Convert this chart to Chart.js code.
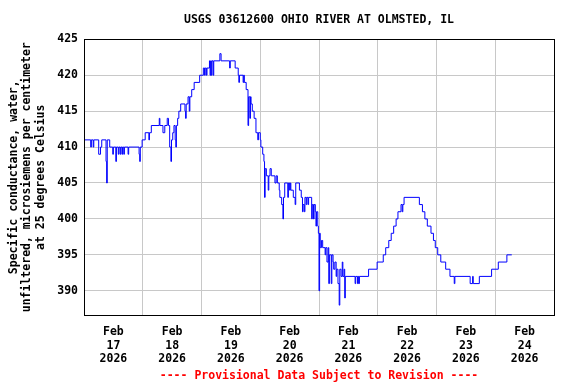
<!DOCTYPE html>
<html>
<head>
<meta charset="utf-8">
<script src="https://cdn.jsdelivr.net/npm/chart.js@4.4.1/dist/chart.umd.min.js"></script>
<style>
    html, body { margin: 0; padding: 0; background: #ffffff; }
</style>
</head>
<body>
<canvas id="myChart" width="576" height="384"></canvas>
<script>
const stationTitle = 'USGS 03612600 OHIO RIVER AT OLMSTED, IL';
const yAxisTitle = ['Specific conductance, water,', 'unfiltered, microsiemens per centimeter', 'at 25 degrees Celsius'];
const footerText = '---- Provisional Data Subject to Revision ----';

// x axis runs in hours from Feb 17 2026 00:00 to Feb 25 2026 00:00
const tickMonth = 'Feb';
const tickDays = ['17', '18', '19', '20', '21', '22', '23', '24'];
const tickYear = '2026';
const yTicks = [390, 395, 400, 405, 410, 415, 420, 425];

// change points of the 15-minute record (value holds until the next one)
const hours = [
    0, 2.75, 3, 3.75, 4, 6, 6.75, 7.25, 9, 9.25, 9.5, 10.5, 11.75, 12, 13, 13.25,
    14, 14.25, 14.75, 15, 15.5, 15.75, 16.25, 16.5, 18, 18.25, 22.5, 22.75, 23, 23.75,
    25, 26.5, 26.75, 27.5, 30.75, 31, 32.25, 33, 34, 34.5, 35, 35.5, 35.75, 36.25, 36.75,
    37.25, 37.5, 37.75, 38.25, 38.75, 39.5, 41.25, 41.5, 41.75, 42.5, 43, 43.25, 44, 45,
    47.25, 48.75, 49.25, 49.5, 50, 50.25, 51.25, 51.5, 51.75, 52, 52.25, 52.75, 53,
    55.5, 56, 59.5, 59.75, 61.75, 63, 63.25, 63.5, 65, 65.25, 65.5, 66.25, 67, 67.25,
    67.75, 68, 68.25, 68.75, 69.5, 70.25, 71, 71.25, 72, 72.25, 73, 73.5, 73.75, 74,
    74.5, 75.25, 75.5, 76, 76.5, 78, 78.5, 79, 79.75, 80, 80.75, 81.25, 81.5, 82,
    83.25, 83.5, 84, 84.25, 84.5, 85.5, 86.25, 86.5, 88, 88.75, 89.25, 89.5, 90, 90.25,
    90.75, 91, 91.5, 91.75, 93, 93.25, 93.75, 94, 94.5, 94.75, 95, 95.5, 95.75, 96,
    96.25, 96.5, 97, 97.5, 98.5, 98.75, 99.25, 99.75, 100, 100.25, 101, 101.25, 101.75,
    102, 102.5, 103, 103.25, 103.75, 104.25, 104.5, 105, 105.5, 105.75, 106.25, 106.5,
    106.75, 110.75, 111, 111.75, 112, 112.25, 112.5, 116.25, 119.75, 122.25, 123.25,
    124.5, 125.5, 126.5, 127.5, 128.25, 129.5, 130, 130.25, 130.75, 137, 138.25, 139.25,
    140.25, 141.75, 142.75, 143.5, 144.5, 145.75, 147.75, 149.5, 151.25, 151.5, 157.75,
    158.75, 159, 161.5, 166.5, 169.25, 172.75, 174.75
];
const conductance = [
    411, 410, 411, 410, 411, 409, 410, 411, 408, 405, 411, 410, 409, 410, 408, 410,
    409, 410, 409, 410, 409, 410, 409, 410, 409, 410, 409, 408, 410, 411,
    412, 411, 412, 413, 414, 413, 412, 413, 414, 413, 410, 408, 411, 412, 413,
    411, 410, 413, 414, 415, 416, 415, 414, 416, 417, 415, 417, 418, 419,
    420, 421, 420, 421, 420, 421, 422, 420, 422, 420, 422, 420, 422,
    423, 422, 421, 422, 421, 420, 419, 420, 419, 420, 419, 418, 413, 417,
    414, 417, 416, 415, 414, 412, 411, 412, 411, 410, 409, 408, 403, 407,
    406, 404, 406, 407, 406, 405, 406, 405, 404, 403, 402, 400, 403, 405,
    403, 405, 404, 405, 404, 403, 402, 405, 404, 403, 401, 402, 401, 403,
    402, 403, 402, 403, 400, 402, 400, 402, 401, 399, 401, 399, 398, 390,
    398, 396, 397, 396, 395, 396, 394, 396, 391, 395, 391, 395, 394,
    393, 394, 392, 393, 391, 388, 393, 392, 394, 392, 393, 389,
    392, 391, 392, 391, 392, 391, 392, 393, 394, 395, 396,
    397, 398, 399, 400, 401, 402, 401, 402, 403, 402, 401, 400,
    399, 398, 397, 396, 395, 394, 393, 392, 391, 392, 391,
    392, 391, 392, 393, 394, 395, 395
];

const monoFont = "'DejaVu Sans Mono', monospace";

const plotFrame = {
    id: 'plotFrame',
    afterDraw(chart) {
        const {ctx, chartArea: a} = chart;
        ctx.save();
        ctx.strokeStyle = '#000000';
        ctx.lineWidth = 1;
        ctx.strokeRect(Math.round(a.left) + 0.5, Math.round(a.top) + 0.5,
            Math.round(a.right - a.left), Math.round(a.bottom - a.top));
        ctx.restore();
    }
};

document.addEventListener('DOMContentLoaded', function () {
    const ctx = document.getElementById('myChart');

    new Chart(ctx, {
        type: 'line',
        data: {
            datasets: [{
                data: hours.map((h, i) => ({x: h, y: conductance[i]})),
                borderColor: '#0000ff',
                borderWidth: 1,
                pointRadius: 0,
                stepped: true,
                fill: false
            }]
        },
        options: {
            responsive: false,
            animation: false,
            layout: {
                padding: {left: 0, right: 22, top: 0, bottom: 0}
            },
            plugins: {
                legend: {display: false},
                tooltip: {enabled: false},
                title: {
                    display: true,
                    fullSize: false,
                    text: stationTitle,
                    color: '#000000',
                    font: {family: monoFont, size: 11.5, weight: 'bold', lineHeight: 1.2},
                    padding: {top: 13, bottom: 12.5}
                },
                subtitle: {
                    display: true,
                    fullSize: false,
                    position: 'bottom',
                    text: footerText,
                    color: '#ff0000',
                    font: {family: monoFont, size: 11.5, weight: 'bold', lineHeight: 1.2},
                    padding: {top: 5.4, bottom: 1.1}
                }
            },
            scales: {
                x: {
                    type: 'linear',
                    min: 0,
                    max: 192,
                    border: {display: false},
                    grid: {
                        drawTicks: false,
                        color: (c) => (c.tick && c.tick.value % 24 === 0) ? '#c8c8c8' : 'rgba(0,0,0,0)'
                    },
                    afterBuildTicks: (scale) => {
                        const t = [];
                        for (let h = 0; h <= 192; h += 12) t.push({value: h});
                        scale.ticks = t;
                    },
                    afterFit: (scale) => {
                        scale.height = 48.5;
                    },
                    ticks: {
                        autoSkip: false,
                        maxRotation: 0,
                        minRotation: 0,
                        padding: 10.5,
                        color: '#000000',
                        font: {family: monoFont, size: 11.5, weight: 'bold', lineHeight: 1.17},
                        callback: (value) => {
                            if (value % 24 !== 12) return '';
                            return [tickMonth, tickDays[(value - 12) / 24], tickYear];
                        }
                    }
                },
                y: {
                    min: 386.6,
                    max: 425,
                    border: {display: false},
                    grid: {
                        drawTicks: false,
                        color: '#c8c8c8'
                    },
                    afterBuildTicks: (scale) => {
                        scale.ticks = yTicks.map(v => ({value: v}));
                    },
                    afterFit: (scale) => {
                        scale.width = 84;
                    },
                    ticks: {
                        padding: 6,
                        color: '#000000',
                        font: {family: monoFont, size: 11.5, weight: 'bold'}
                    },
                    title: {
                        display: true,
                        text: yAxisTitle,
                        color: '#000000',
                        font: {family: monoFont, size: 11.5, weight: 'bold', lineHeight: 1.16},
                        padding: {top: 7.5, bottom: 4}
                    }
                }
            }
        },
        plugins: [plotFrame]
    });
});
</script>
</body>
</html>
